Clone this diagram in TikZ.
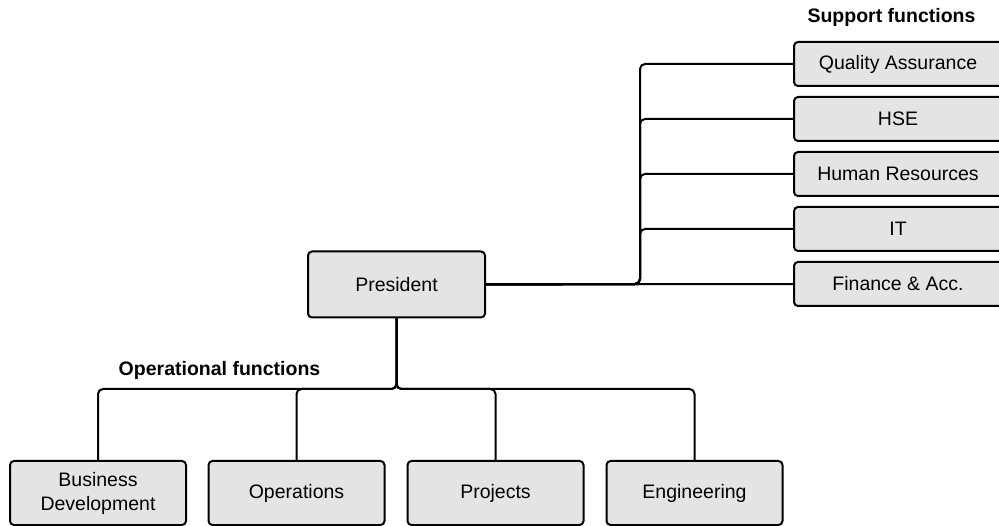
\documentclass[tikz,border=0pt]{standalone}
\usepackage{fontspec}
\setmainfont{Liberation Sans}
\definecolor{boxfill}{HTML}{E4E4E4}
\begin{document}
\begin{tikzpicture}[x=1pt,y=-1pt,
  unit/.style={draw, line width=2pt, rounded corners=4pt, fill=boxfill,
    inner sep=0pt, align=center, font=\fontsize{19.5}{24}\selectfont},
  topunit/.style={unit, minimum width=177pt, minimum height=66pt},
  supunit/.style={unit, minimum width=212pt, minimum height=44pt},
  opunit/.style={unit, minimum width=176pt, minimum height=64pt},
  heading/.style={font=\fontsize{19.5}{24}\selectfont\bfseries, inner sep=0pt},
  link/.style={line width=2pt, rounded corners=5pt}]
\useasboundingbox (0,0) rectangle (999,526);

% head of the organisation
\node[topunit] (pres) at (396.5,284.5) {President};

% support functions, stacked on the right
\node[heading] (suphead) at (891.5,17) {Support functions};
\node[supunit] (qa)  at (900,64)  {\hspace*{-4pt}Quality Assurance};
\node[supunit] (hse) at (900,119) {\hspace*{-4pt}HSE};
\node[supunit] (hr)  at (900,174) {\hspace*{-4pt}Human Resources};
\node[supunit] (it)  at (900,229) {\hspace*{-4pt}IT};
\node[supunit] (fin) at (900,284) {\hspace*{-4pt}Finance \& Acc.};

% operational functions along the bottom
\node[heading] (ophead) at (219.5,370) {Operational functions};
\node[opunit] (bd)   at (98,493)    {Business\\Development};
\node[opunit] (ops)  at (296.5,493) {Operations};
\node[opunit] (proj) at (495.5,493) {Projects};
\node[opunit] (eng)  at (694.5,493) {Engineering};

% branching points of the connectors
\coordinate (trunk) at (640,284);
\coordinate (bus) at (396.5,389);

% support connectors
\foreach \s in {qa,hse,hr,it}
  \draw[link] (pres.east) -- (trunk) |- (\s.west);
\draw[link] (pres.east) -- (fin.west);

% operational connectors
\foreach \o in {bd,ops,proj,eng}
  \draw[link] (pres.south) -- (bus) -| (\o.north);
\end{tikzpicture}
\end{document}
